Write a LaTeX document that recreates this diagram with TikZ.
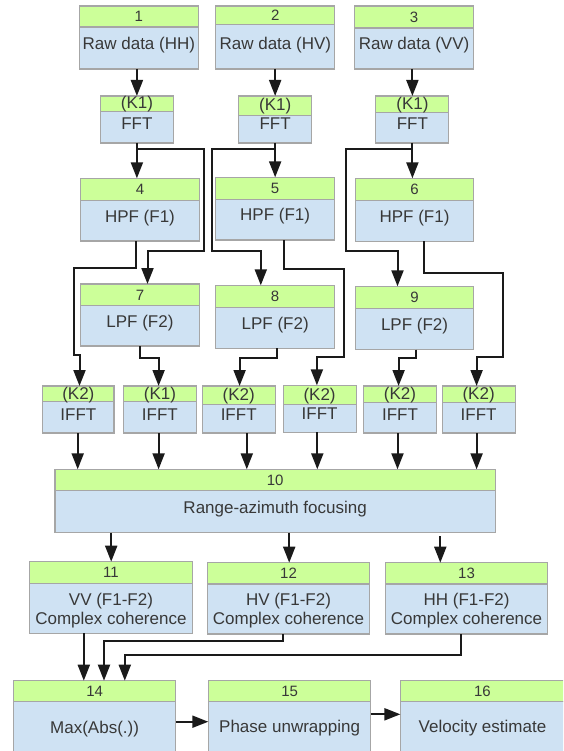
\documentclass[tikz,border=0pt]{standalone}
\usepackage{fontspec}
\setmainfont{Liberation Sans}
\usetikzlibrary{arrows.meta}
\definecolor{hdrgreen}{HTML}{CCFF99}
\definecolor{bodblue}{HTML}{CFE2F3}
\definecolor{bordgray}{HTML}{A6A6A6}
\definecolor{txtgray}{HTML}{383838}
\definecolor{linecol}{HTML}{1A1A1A}
\tikzset{
 hdrbox/.style={rectangle, draw=bordgray, fill=hdrgreen, line width=1.1pt, inner sep=0pt, outer sep=0pt},
 bodbox/.style={rectangle, draw=bordgray, fill=bodblue, line width=1.1pt, inner sep=0pt, outer sep=0pt},
 hdrtxt/.style={inner sep=0pt, text=txtgray, font=\fontsize{15}{17}\selectfont},
 bodtxt/.style={inner sep=0pt, text=txtgray, font=\fontsize{17}{19}\selectfont},
 arr/.style={draw=linecol, line width=2pt, -{Triangle[length=16pt,width=12pt]}}
}
\newcommand{\kh}[1]{{\fontsize{17}{19}\selectfont #1}}
% name, x1, y1, x2, y header bottom, y2, header, body, body baseline
\newcommand{\blk}[9]{%
  \node[hdrbox, minimum width={(#4-#2)*1pt}, minimum height={(#5-#3)*1pt}, anchor=north west] (#1h) at (#2,#3) {};
  \node[bodbox, minimum width={(#4-#2)*1pt}, minimum height={(#6-#5)*1pt}, anchor=north west] (#1) at (#2,#5) {};
  \node[hdrtxt, anchor=base] (#1n) at ({(#2+#4)/2},{(#3+#5)/2+5.3}) {#7};
  \node[bodtxt, anchor=base] (#1t) at ({(#2+#4)/2},#9) {#8};
}
\begin{document}
\begin{tikzpicture}[x=1pt,y=-1pt]
\useasboundingbox (0,0) rectangle (563,751);
\clip (0,0) rectangle (563,751);
\fill[white] (0,0) rectangle (563,751);

\blk{b1}{79.5}{6}{198.2}{27}{69}{1}{Raw data (HH)}{49.8}
\blk{b2}{215.8}{6}{334.9}{24.5}{69}{2}{Raw data (HV)}{49.5}
\blk{b3}{354.7}{6}{473.4}{28}{69}{3}{Raw data (VV)}{49.8}

\blk{f1}{100.4}{96}{173.4}{111.3}{143}{\kh{(K1)}}{FFT}{129.5}
\blk{f2}{238.8}{96}{311.5}{115.3}{143}{\kh{(K1)}}{FFT}{129.8}
\blk{f3}{375.9}{96}{448.9}{112.7}{143}{\kh{(K1)}}{FFT}{129.5}

\blk{b4}{80.6}{178.3}{199.3}{200.3}{241}{4}{HPF (F1)}{222.5}
\blk{b5}{215.8}{177.3}{334.5}{199.3}{240}{5}{HPF (F1)}{221}
\blk{b6}{355.4}{178.3}{473.7}{200.3}{241.3}{6}{HPF (F1)}{222.5}

\blk{b7}{80.6}{284}{199.3}{305.7}{346}{7}{LPF (F2)}{327.5}
\blk{b8}{215.8}{285.3}{334.5}{307.3}{348.3}{8}{LPF (F2)}{329.3}
\blk{b9}{355.4}{286.3}{473.7}{308.3}{349.7}{9}{LPF (F2)}{330.5}

\blk{i1}{42.7}{386}{114}{401.7}{433}{\kh{(K2)}}{IFFT}{420}
\blk{i2}{123.4}{386}{196.4}{401.7}{433}{\kh{(K1)}}{IFFT}{420}
\blk{i3}{202.2}{386}{275.2}{404.7}{433}{\kh{(K2)}}{IFFT}{420}
\blk{i4}{283.1}{385.3}{356.1}{404.3}{432.3}{\kh{(K2)}}{IFFT}{419}
\blk{i5}{363.7}{386}{436.3}{402.3}{433}{\kh{(K2)}}{IFFT}{420}
\blk{i6}{442.1}{386}{515.1}{402.3}{433}{\kh{(K2)}}{IFFT}{420}

\blk{b10}{55}{469.3}{495.3}{490.3}{532.7}{10}{Range-azimuth focusing}{513}

\blk{b11}{29.5}{561.7}{192.4}{583.3}{633.3}{11}{VV (F1-F2)}{605.5}
\node[bodtxt, anchor=base] (b11u) at (110.95,624) {Complex coherence};
\blk{b12}{207.2}{562.7}{369.8}{584}{634}{12}{HV (F1-F2)}{605.8}
\node[bodtxt, anchor=base] (b12u) at (288.5,624.3) {Complex coherence};
\blk{b13}{385.3}{562.7}{547.8}{584}{634}{13}{HH (F1-F2)}{605.8}
\node[bodtxt, anchor=base] (b13u) at (466.55,624.3) {Complex coherence};

\blk{b14}{13.3}{680.7}{175.9}{701.7}{753}{14}{Max(Abs(.))}{733}
\blk{b15}{208.3}{680.7}{370.9}{701.7}{753}{15}{Phase unwrapping}{732.5}
\blk{b16}{400.4}{680.7}{564.5}{701.7}{753}{16}{Velocity estimate}{732.5}

% raw data -> FFT
\draw[arr] (b1.south -| f1h.north) -- (f1h.north);
\draw[arr] (b2.south -| f2h.north) -- (f2h.north);
\draw[arr] (b3.south -| f3h.north) -- (f3h.north);
% FFT -> HPF
\draw[arr] (f1.south) -- (f1.south |- b4h.north);
\draw[arr] (f2.south) -- (f2.south |- b5h.north);
\draw[arr] (f3.south) -- (f3.south |- b6h.north);
% FFT -> LPF
\draw[arr] (f1.south) |- (204.3,149.3) |- (147.5,250.7) -- (147.5,0 |- b7h.north);
\draw[arr] (f2.south) |- (212.2,149.3) |- (260.8,250.7) -- (260.8,0 |- b8h.north);
\draw[arr] (f3.south) |- (346.4,149.3) |- (397.5,250.7) -- (397.5,0 |- b9h.north);
% HPF -> IFFT
\draw[arr] (135.6,0 |- b4.south) |- (73.7,267.7) |- (79.5,355) -- (79.5,0 |- i1h.north);
\draw[arr] (284.2,0 |- b5.south) |- (344.2,269.3) |- (316.9,356.7) -- (316.9,0 |- i4h.north);
\draw[arr] (423.7,0 |- b6.south) |- (502.9,273) |- (476.6,356.7) -- (476.6,0 |- i6h.north);
% LPF -> IFFT
\draw[arr] (140,0 |- b7.south) |- (158.6,358.3) -- (158.6,0 |- i2h.north);
\draw[arr] (277.3,0 |- b8.south) |- (239.6,358.3) -- (239.6,0 |- i3h.north);
\draw[arr] (416,0 |- b9.south) |- (398.6,358.3) -- (398.6,0 |- i5h.north);
% IFFT -> focusing
\foreach \n/\x in {i1/77.7, i2/158.6, i3/246.8, i4/317.3, i5/397.5, i6/476.6}
  \draw[arr] (\x,0 |- \n.south) -- (\x,0 |- b10h.north);
% focusing -> coherence
\draw[arr] (111.2,0 |- b10.south) -- (111.2,0 |- b11h.north);
\draw[arr] (289.2,0 |- b10.south) -- (289.2,0 |- b12h.north);
\coordinate (g13) at (440.3,536);
\draw[arr] (g13) -- (g13 |- b13h.north);
% coherence -> max
\draw[arr] (83.8,0 |- b11.south) -- (83.8,0 |- b14h.north);
\draw[arr] (282.7,0 |- b12.south) |- (104,640.7) -- (104,0 |- b14h.north);
\draw[arr] (460.8,0 |- b13.south) |- (124.8,654.7) -- (124.8,0 |- b14h.north);
% bottom chain
\draw[arr] (b14.east |- 0,721.7) -- (b15.west |- 0,721.7);
\draw[arr] (b15.east |- 0,714.3) -- (b16.west |- 0,714.3);
\end{tikzpicture}
\end{document}
